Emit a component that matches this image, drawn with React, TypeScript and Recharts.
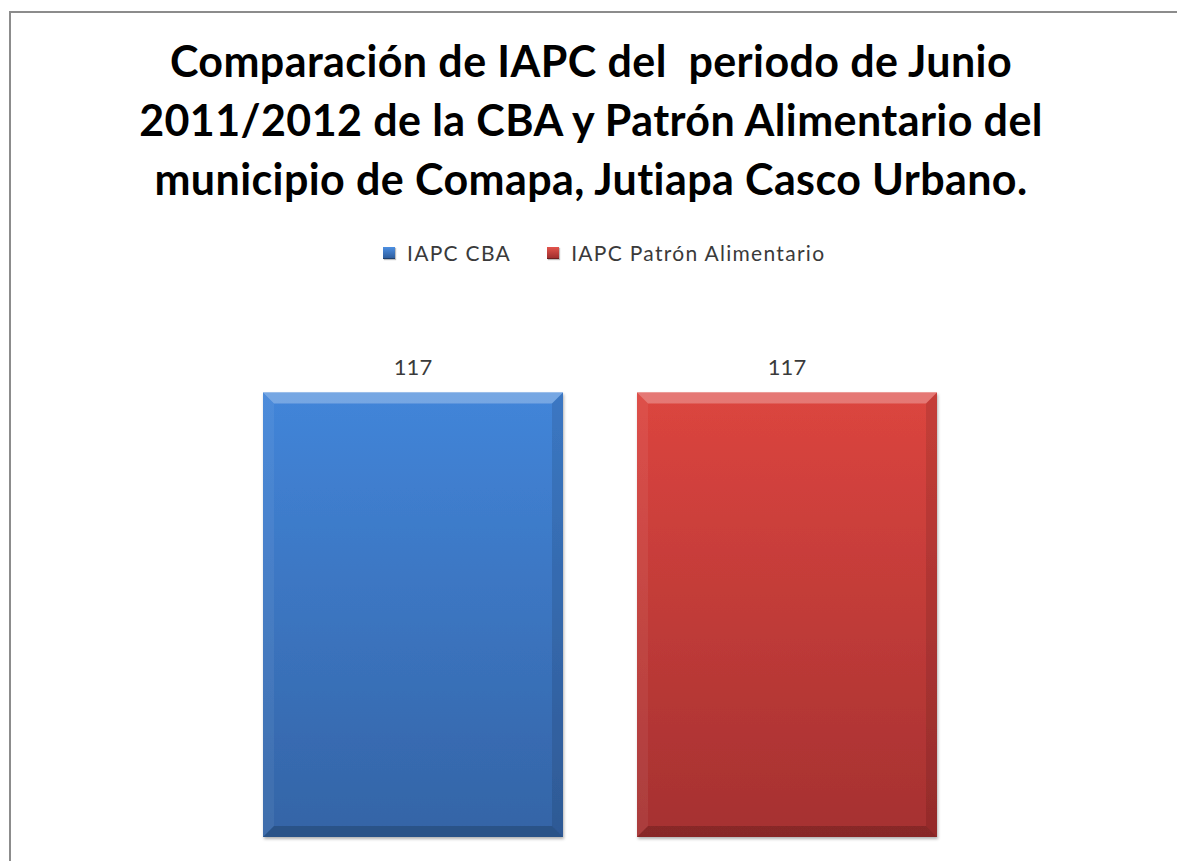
import React from 'react';
import { BarChart, Bar, XAxis, YAxis, Legend, LabelList } from 'recharts';

const categories = ['Junio 2011/2012'];
const iapcCba = [117];
const iapcPatron = [117];
const seriesNames = ['IAPC CBA', 'IAPC Patrón Alimentario'];
const titleLines = [
  'Comparación de IAPC del\u00a0 periodo de Junio',
  '2011/2012 de la CBA y Patrón Alimentario del',
  'municipio de Comapa, Jutiapa Casco Urbano.',
];

const data = categories.map((c, i) => ({ name: c, cba: iapcCba[i], patron: iapcPatron[i] }));

const palette: Record<string, { top: string; bottom: string }> = {
  blue: { top: '#4285d9', bottom: '#3464a6' },
  red: { top: '#dc453f', bottom: '#a53131' },
};

const makeShape = (key: string) => (props: any) => {
  const { x, y, width, height } = props;
  if (!width || !height) return null;
  const b = 11;
  const gid = `grad-${key}`;
  return (
    <g filter="url(#barShadow)">
      <rect x={x} y={y} width={width} height={height} fill={`url(#${gid})`} />
      <polygon
        points={`${x},${y} ${x + width},${y} ${x + width - b},${y + b} ${x + b},${y + b}`}
        fill="#ffffff"
        fillOpacity={0.28}
      />
      <polygon
        points={`${x},${y} ${x + b},${y + b} ${x + b},${y + height - b} ${x},${y + height}`}
        fill="#ffffff"
        fillOpacity={0.06}
      />
      <polygon
        points={`${x + width},${y} ${x + width},${y + height} ${x + width - b},${y + height - b} ${x + width - b},${y + b}`}
        fill="#000000"
        fillOpacity={0.1}
      />
      <polygon
        points={`${x},${y + height} ${x + width},${y + height} ${x + width - b},${y + height - b} ${x + b},${y + height - b}`}
        fill="#000000"
        fillOpacity={0.18}
      />
    </g>
  );
};

const LegendContent = (props: any) => {
  const { payload } = props;
  return (
    <div
      style={{
        display: 'flex',
        alignItems: 'center',
        fontFamily: 'Lato, sans-serif',
        fontSize: 21,
        letterSpacing: 1.3,
        color: '#3a3a3a',
        lineHeight: '24px',
        whiteSpace: 'nowrap',
      }}
    >
      {(payload || []).map((p: any, i: number) => (
        <div key={i} style={{ display: 'flex', alignItems: 'center', marginRight: i === 0 ? 36 : 0 }}>
          <div
            style={{
              width: 12,
              height: 12,
              marginRight: 12,
              background: `linear-gradient(${p.color === 'blue' ? '#4d8fe2, #2c5a98' : '#e3544c, #9a2c2c'})`,
              boxShadow: 'inset 0 -1px 0 rgba(0,0,0,0.3), 1px 1px 1px rgba(0,0,0,0.25)',
            }}
          />
          <span>{p.value}</span>
        </div>
      ))}
    </div>
  );
};

export default function App() {
  return (
    <div style={{ position: 'fixed', left: 0, top: 0, width: 1177, height: 861, overflow: 'hidden', background: '#ffffff' }}>
      <div
        style={{
          position: 'absolute',
          left: 9,
          top: 11,
          width: 1300,
          height: 1000,
          border: '2px solid #8c8c8c',
          boxSizing: 'border-box',
        }}
      />
      <div
        style={{
          position: 'absolute',
          left: 0,
          top: 31,
          width: 1182,
          textAlign: 'center',
          fontFamily: 'Lato, sans-serif',
          fontWeight: 700,
          fontSize: 43,
          letterSpacing: 0.4,
          lineHeight: '59px',
          color: '#000000',
          whiteSpace: 'nowrap',
        }}
      >
        {titleLines.map((l, i) => (
          <div key={i}>{l}</div>
        ))}
      </div>
      <div style={{ position: 'absolute', left: 0, top: 0 }}>
        <BarChart
          width={1177}
          height={861}
          data={data}
          margin={{ top: 305, bottom: 0, left: 150, right: 127 }}
          barSize={300}
          barGap={74}
        >
          <defs>
            <linearGradient id="grad-blue" x1="0" y1="0" x2="0" y2="1">
              <stop offset="0%" stopColor={palette.blue.top} />
              <stop offset="100%" stopColor={palette.blue.bottom} />
            </linearGradient>
            <linearGradient id="grad-red" x1="0" y1="0" x2="0" y2="1">
              <stop offset="0%" stopColor={palette.red.top} />
              <stop offset="100%" stopColor={palette.red.bottom} />
            </linearGradient>
            <filter id="barShadow" x="-5%" y="-5%" width="110%" height="110%">
              <feDropShadow dx="1" dy="2" stdDeviation="1.5" floodColor="#000000" floodOpacity="0.3" />
            </filter>
          </defs>
          <XAxis dataKey="name" hide />
          <YAxis hide domain={[0, 140]} />
          <Legend
            content={<LegendContent />}
            wrapperStyle={{ left: 383, top: 241, width: 'auto' }}
          />
          <Bar dataKey="cba" name={seriesNames[0]} fill="blue" shape={makeShape('blue')} isAnimationActive={false}>
            <LabelList dataKey="cba" position="top" offset={17} style={{ fontFamily: 'Lato, sans-serif', fontSize: 22, fill: '#3a3a3a' }} />
          </Bar>
          <Bar dataKey="patron" name={seriesNames[1]} fill="red" shape={makeShape('red')} isAnimationActive={false}>
            <LabelList dataKey="patron" position="top" offset={17} style={{ fontFamily: 'Lato, sans-serif', fontSize: 22, fill: '#3a3a3a' }} />
          </Bar>
        </BarChart>
      </div>
    </div>
  );
}
